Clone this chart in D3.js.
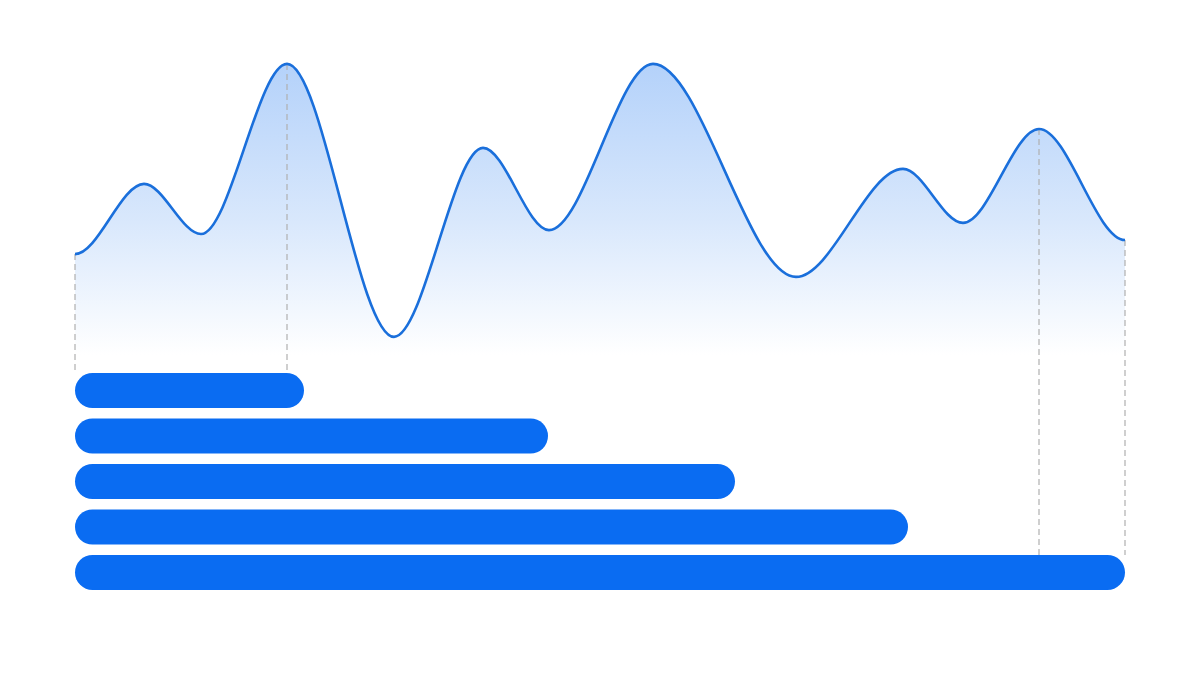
<!DOCTYPE html>
<html>
<head>
<meta charset="utf-8">
<script src="https://cdn.jsdelivr.net/npm/d3@7"></script>
<style>
  html, body { margin: 0; padding: 0; background: #ffffff; }
  svg { display: block; }
</style>
</head>
<body>
<svg id="chart" width="1200" height="675"></svg>
<script>
// ---- data ----
const curveX = [0, 69, 126, 212, 319, 408, 474, 578, 721, 828, 888, 964, 1050];
const curveY = [35.3, 58.7, 42, 98.7, 7.7, 70.7, 43.3, 98.7, 27.7, 63.7, 45.7, 77, 40];
const barNames = ["A", "B", "C", "D", "E"];
const barValues = [229, 473, 660, 833, 1050];
// guide lines: index into curve points, and bar they drop to
const guidePoint = [0, 3, 11, 12];
const guideBar = ["A", "A", "E", "E"];

// ---- custom curve: cubic Hermite with flat tangents at every point ----
function FlatHermite(context) { this._context = context; }
FlatHermite.prototype = {
  areaStart() { this._line = 0; },
  areaEnd() { this._line = NaN; },
  lineStart() { this._point = 0; },
  lineEnd() {
    if (this._line || (this._line !== 0 && this._point === 1)) this._context.closePath();
    this._line = 1 - this._line;
  },
  point(x, y) {
    x = +x; y = +y;
    if (this._point === 0) {
      this._point = 1;
      this._line ? this._context.lineTo(x, y) : this._context.moveTo(x, y);
    } else {
      this._point = 2;
      const h = (x - this._x0) / 3;
      this._context.bezierCurveTo(this._x0 + h, this._y0, x - h, y, x, y);
    }
    this._x0 = x; this._y0 = y;
  }
};
const curveFlat = ctx => new FlatHermite(ctx);

// ---- layout ----
const svg = d3.select("#chart");
const x = d3.scaleLinear().domain([0, 1050]).range([75, 1125]);
const y = d3.scaleLinear().domain([0, 100]).range([360, 60]);
const yb = d3.scaleBand().domain(barNames).range([373, 590]).paddingInner(0.23).paddingOuter(0);

const pts = curveX.map((d, i) => ({ x: d, y: curveY[i] }));

const defs = svg.append("defs");
const grad = defs.append("linearGradient")
  .attr("id", "areaGrad").attr("gradientUnits", "userSpaceOnUse")
  .attr("x1", 0).attr("x2", 0).attr("y1", y(100)).attr("y2", 355);
grad.append("stop").attr("offset", "0%").attr("stop-color", "#b3d1fa");
grad.append("stop").attr("offset", "55%").attr("stop-color", "#d9e8fc");
grad.append("stop").attr("offset", "100%").attr("stop-color", "#ffffff");

const area = d3.area()
  .x(d => x(d.x)).y0(358).y1(d => y(d.y))
  .curve(curveFlat);
const line = d3.line()
  .x(d => x(d.x)).y(d => y(d.y))
  .curve(curveFlat);

svg.append("path").datum(pts).attr("d", area).attr("fill", "url(#areaGrad)");

// guides
svg.append("g").selectAll("line").data(guidePoint).join("line")
  .attr("x1", d => x(pts[d].x)).attr("x2", d => x(pts[d].x))
  .attr("y1", d => y(pts[d].y)).attr("y2", (d, i) => yb(guideBar[i]))
  .attr("stroke", "#b0b0b0").attr("stroke-width", 1.2).attr("stroke-dasharray", "6,4");

svg.append("path").datum(pts).attr("d", line)
  .attr("fill", "none").attr("stroke", "#1a6fdb").attr("stroke-width", 2.6);

// bars
const bh = yb.bandwidth();
svg.append("g").selectAll("rect").data(barValues).join("rect")
  .attr("x", x(0)).attr("y", (d, i) => yb(barNames[i]))
  .attr("width", d => x(d) - x(0)).attr("height", bh)
  .attr("rx", bh / 2).attr("ry", bh / 2)
  .attr("fill", "#0a6cf2");
</script>
</body>
</html>
